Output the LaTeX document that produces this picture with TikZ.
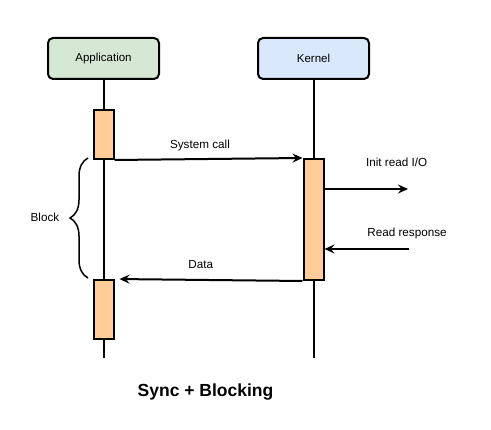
\documentclass[tikz,border=0pt]{standalone}
\usepackage{fontspec}
\setmainfont{Liberation Sans}
\usetikzlibrary{arrows.meta,positioning,decorations.pathreplacing}
\definecolor{appgreen}{HTML}{D5E8D4}
\definecolor{kernblue}{HTML}{DAE8FC}
\definecolor{actorange}{HTML}{FFCC99}
\tikzset{%
	lifebox/.style = {draw, rectangle, rounded corners=5pt, minimum width=111pt, minimum height=41pt, text centered, font=\fontsize{11.5}{13}\selectfont},
	actbar/.style  = {draw, rectangle, fill=actorange, minimum width=20pt, inner sep=0pt, anchor=north},
	msg/.style     = {-{Stealth[length=10pt,width=9pt,inset=3.5pt]}},
	lbl/.style     = {font=\fontsize{11.7}{13}\selectfont, anchor=base},
}
\begin{document}
\begin{tikzpicture}[x=1pt,y=-1pt,line width=2pt]
	\useasboundingbox (0,0) rectangle (491,430);
	\node[lifebox,fill=appgreen] (app) at (103.5,58.5) {Application};
	\node[lifebox,fill=kernblue] (kern) at (313.5,58.5) {Kernel};
	% lifelines
	\coordinate (append) at (103.5,358);
	\coordinate (kernend) at (313.5,358);
	\draw (app) -- (append);
	\draw (kern) -- (kernend);
	% activations
	\node[actbar,minimum height=49pt] (call) at (103.5,109) {};
	\node[actbar,minimum height=121pt] (work) at (313.5,158) {};
	\node[actbar,minimum height=59pt] (ret) at (103.5,279) {};
	% messages
	\draw[msg] (call.south east) -- (work.north west);
	\node[lbl] (calllbl) at (200,148.3) {System call};
	\coordinate (ioend) at (408,189);
	\draw[msg] (work.east |- ioend) -- (ioend);
	\node[lbl] (iolbl) at (396.7,166.7) {Init read I/O};
	\coordinate (respstart) at (409,249);
	\draw[msg] (respstart) -- (work.east |- respstart);
	\node[lbl] (resplbl) at (407,236.7) {Read response};
	\draw[msg,shorten >=5pt] (work.south west) -- (ret.north east);
	\node[lbl] (datalbl) at (200.8,268.3) {Data};
	% block brace
	\draw[line width=1.5pt,decorate,decoration={brace,amplitude=18pt}] (88,278) -- (88,158);
	\node[lbl] (blocklbl) at (45,221.7) {Block};
	\node[font=\bfseries\fontsize{17.5}{20}\selectfont,anchor=base] (title) at (205.5,397) {Sync + Blocking};
\end{tikzpicture}
\end{document}
